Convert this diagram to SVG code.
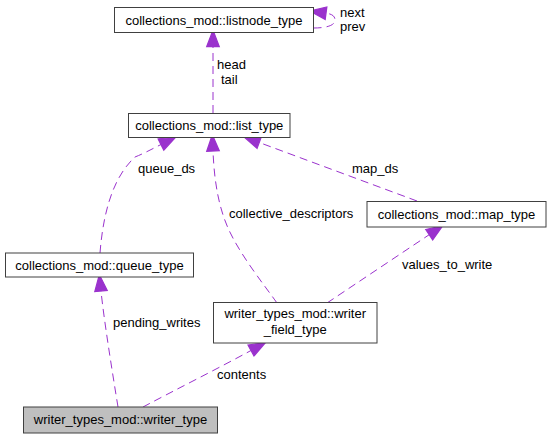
<svg xmlns="http://www.w3.org/2000/svg" width="551" height="439" viewBox="0 0 551 439">
<style>
.node rect{fill:#ffffff;stroke:#404040;stroke-width:1}
.root rect{fill:#bfbfbf}
.nt{font-family:"Liberation Sans",Arial,sans-serif;font-size:13px;fill:#000000;text-anchor:middle}
.el{font-family:"Liberation Sans",Arial,sans-serif;font-size:13px;fill:#000000}
.edge{fill:none;stroke:#9a32cd;stroke-width:1;stroke-dasharray:8,5}
</style>
<defs>
<marker id="ah" markerUnits="userSpaceOnUse" markerWidth="20" markerHeight="20" refX="0" refY="0" viewBox="-1 -7 16 14" orient="auto" overflow="visible">
<path d="M0,-5 L13,0 L0,5 Z" fill="#9a32cd" stroke="#9a32cd" stroke-width="1"/>
</marker>
</defs>
<rect width="551" height="439" fill="#ffffff"/>
<g id="edges">
<path class="edge" d="M213,113 L213,46.5" marker-end="url(#ah)"/>
<path class="edge" d="M313.5,28 C325,28 335,26 335,20 C335,16 332,14 326,13.2" marker-end="url(#ah)"/>
<path class="edge" d="M100,253 C103,215 112,178 135,157 C145,153 152,149 161,144.5" marker-end="url(#ah)"/>
<path class="edge" d="M277,303 C265,286 240,255 228,228 C217,203 214,175 213,151" marker-end="url(#ah)"/>
<path class="edge" d="M417,201 L259.2,142.5" marker-end="url(#ah)"/>
<path class="edge" d="M327,303 L429.2,234.7" marker-end="url(#ah)"/>
<path class="edge" d="M118,407 C112,370 104,320 101,291" marker-end="url(#ah)"/>
<path class="edge" d="M143,407 C175,390 215,370 251,350.5" marker-end="url(#ah)"/>
<text class="el" x="217" y="69">head</text>
<text class="el" x="221" y="84">tail</text>
<text class="el" x="340" y="16.5">next</text>
<text class="el" x="340" y="30.5">prev</text>
<text class="el" x="138" y="173">queue_ds</text>
<text class="el" x="229" y="217.5">collective_descriptors</text>
<text class="el" x="352" y="173">map_ds</text>
<text class="el" x="402" y="269">values_to_write</text>
<text class="el" x="113" y="327">pending_writes</text>
<text class="el" x="217" y="379">contents</text>
</g>
<g id="node_listnode" class="node">
<rect x="114.5" y="7.5" width="199" height="25"/>
<text class="nt" x="214" y="24.5">collections_mod::listnode_type</text>
</g>
<g id="node_list" class="node">
<rect x="128.5" y="113.5" width="161.5" height="24"/>
<text class="nt" x="209.3" y="130">collections_mod::list_type</text>
</g>
<g id="node_queue" class="node">
<rect x="5.5" y="253" width="188" height="24"/>
<text class="nt" x="99.5" y="269.5">collections_mod::queue_type</text>
</g>
<g id="node_map" class="node">
<rect x="367" y="201.5" width="179" height="25.5"/>
<text class="nt" x="456.5" y="218.5">collections_mod::map_type</text>
</g>
<g id="node_writer_field" class="node">
<rect x="213.5" y="302.5" width="163.5" height="40.5"/>
<text class="nt" x="295.2" y="318">writer_types_mod::writer</text>
<text class="nt" x="295.2" y="334">_field_type</text>
</g>
<g id="node_writer" class="node root">
<rect x="23.5" y="407" width="194" height="26"/>
<text class="nt" x="120.5" y="424">writer_types_mod::writer_type</text>
</g>
</svg>
